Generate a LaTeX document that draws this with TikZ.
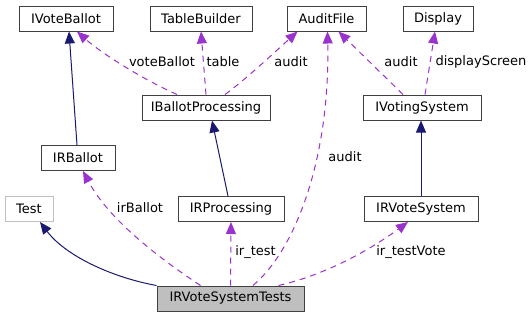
\documentclass[tikz,border=0pt]{standalone}
\usepackage{fontspec}
\setmainfont{DejaVu Sans}
\usetikzlibrary{arrows.meta}
\definecolor{navyedge}{HTML}{191970}
\definecolor{useedge}{HTML}{9A32CD}
\definecolor{boxline}{HTML}{404040}
\definecolor{boxgray}{HTML}{BFBFBF}
\begin{document}
\begin{tikzpicture}[x=1pt,y=-1pt,
  cls/.style={draw=boxline, line width=1pt, fill=white, inner sep=0pt,
    minimum height=25pt, font=\fontsize{13}{15}\selectfont, text=black},
  inherit/.style={draw=navyedge, line width=1pt,
    -{Triangle[length=12pt,width=10pt]}},
  uses/.style={draw=useedge, line width=1pt, dash pattern=on 6pt off 5pt,
    -{Triangle[length=12pt,width=10pt]}},
  lbl/.style={inner sep=0pt, font=\fontsize{13}{15}\selectfont, text=black}]
\useasboundingbox (0,0) rectangle (532,317);

% classes
\node[cls, minimum width=94pt]  (ivb)   at (66,18.5)   {IVoteBallot};
\node[cls, minimum width=102pt] (tb)    at (201,18.5)  {TableBuilder};
\node[cls, minimum width=79pt]  (af)    at (326.5,18.5){AuditFile};
\node[cls, minimum width=70pt]  (disp)  at (438,18.5)  {Display};
\node[cls, minimum width=128pt] (ibp)   at (206,107.5) {IBallotProcessing};
\node[cls, minimum width=118pt] (ivs)   at (422,107.5) {IVotingSystem};
\node[cls, minimum width=74pt]  (irb)   at (78,158)    {IRBallot};
\node[cls, draw=boxgray, minimum width=48pt] (test) at (29,209) {Test};
\node[cls, minimum width=106pt] (irp)   at (231,209)   {IRProcessing};
\node[cls, minimum width=114pt] (irvs)  at (421,209)   {IRVoteSystem};
\node[cls, fill=boxgray, minimum width=147pt] (tests) at (230.5,298.5) {IRVoteSystemTests};

% inheritance
\draw[inherit] ([xshift=-1pt]irb.north) -- ([xshift=3pt]ivb.south);
\draw[inherit] ([xshift=-3pt]irp.north) -- ([xshift=6pt]ibp.south);
\draw[inherit] (irvs.north) -- (irvs.north |- ivs.south);
\draw[inherit] (tests.north west) .. controls (110,277) and (65,255) .. ([xshift=11pt]test.south);

% usage relations
\draw[uses] ([xshift=-29pt]ibp.north) .. controls (140,78) and (100,52) .. ([xshift=11pt]ivb.south);
\draw[uses] (ibp.north) -- (tb.south);
\draw[uses] ([xshift=19pt]ibp.north) .. controls (245,80) and (275,52) .. ([xshift=-29pt]af.south);
\draw[uses] ([xshift=-19pt]ivs.north) -- ([xshift=12pt]af.south);
\draw[uses] ([xshift=3pt]ivs.north) -- ([xshift=-3pt]disp.south);
\draw[uses] ([xshift=22.5pt]tests.north) .. controls (295,250) and (330,160) .. ([xshift=1pt]af.south);
\draw[uses] ([xshift=-30pt]tests.north) .. controls (165,262) and (110,222) .. ([xshift=5pt]irb.south);
\draw[uses] (tests.north) -- (irp.south);
\draw[uses] ([xshift=48pt]tests.north) .. controls (325,275) and (370,250) .. ([xshift=-13pt]irvs.south);

% member labels
\node[lbl] (l1) at (162,62)    {voteBallot};
\node[lbl] (l2) at (223,62)    {table};
\node[lbl] (l3) at (291,62)    {audit};
\node[lbl] (l4) at (401,62)    {audit};
\node[lbl] (l5) at (481,62)    {displayScreen};
\node[lbl] (l6) at (345,157)   {audit};
\node[lbl] (l7) at (140,208)   {irBallot};
\node[lbl] (l8) at (255.5,252) {ir\_test};
\node[lbl] (l9) at (411,252)   {ir\_testVote};
\end{tikzpicture}
\end{document}
